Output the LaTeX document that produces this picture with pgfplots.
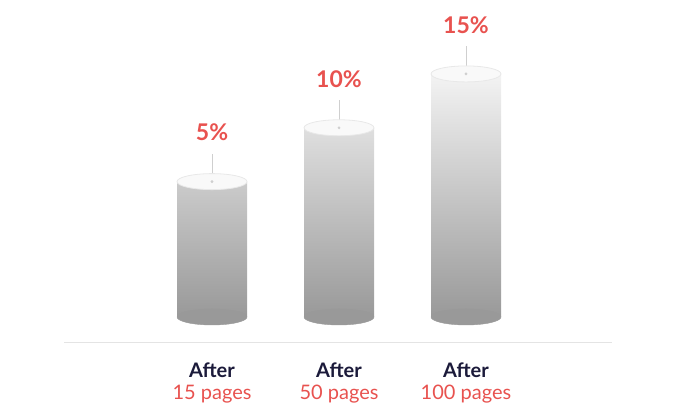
\documentclass[border=0pt]{standalone}
\usepackage{pgfplots}
\pgfplotsset{compat=1.18}
\usepackage{fontspec}
\setmainfont{Lato}

\definecolor{pctred}{HTML}{E8524F}
\definecolor{navy}{HTML}{1B1A3A}
\definecolor{cyldark}{HTML}{999999}
\definecolor{cyllight}{HTML}{F3F3F3}
\definecolor{captop}{HTML}{F9F9F9}
\definecolor{caprim}{HTML}{E8E8E8}
\definecolor{pin}{HTML}{CFCFCF}
\definecolor{baseline}{HTML}{E4E4E4}

% elliptic face of a cylinder, 70px wide
\pgfdeclareplotmark{cylface}{%
  \pgfpathellipse{\pgfpointorigin}{\pgfqpoint{35pt}{0pt}}{\pgfqpoint{0pt}{8pt}}%
  \pgfusepathqfillstroke}

\begin{document}
\begin{tikzpicture}
\useasboundingbox (0,0) rectangle (680pt,412pt);

\begin{axis}[
  scale only axis,
  width=548pt,
  height=343pt,
  at={(64pt,69pt)},
  anchor=south west,
  xmin=-0.1654, xmax=4.1496,
  ymin=-2.414, ymax=29.434,
  clip=false,
  axis x line=bottom,
  hide y axis,
  x axis line style={-, draw=baseline, line width=1pt},
  major tick length=0pt,
  xtick={1,2,3},
  xticklabels={
    {\textbf{\color{navy}After}\\\color{pctred}15 pages},
    {\textbf{\color{navy}After}\\\color{pctred}50 pages},
    {\textbf{\color{navy}After}\\\color{pctred}100 pages}},
  xticklabel style={align=center, font=\fontsize{20}{22.6}\selectfont, yshift=-16pt},
  /pgf/number format/assume math mode=true,
]

% bottom faces
\addplot[only marks, mark=cylface, mark options={fill=cyldark, draw=cyldark}]
coordinates {(1,0) (2,0) (3,0)};

% cylinder bodies
\addplot[ybar, bar width=70pt, bar shift=0pt, draw=none,
  top color=cyllight, bottom color=cyldark,
  y filter/.expression={y+7.57}]
coordinates {(1,5) (2,10) (3,15)};

% top faces
\addplot[only marks, mark=cylface, mark options={fill=captop, draw=caprim, line width=0.8pt},
  y filter/.expression={y+7.57}]
coordinates {(1,5) (2,10) (3,15)};

% pin lines and value labels
\addplot[only marks, color=pin, mark=*, mark size=1.2pt, mark options={fill=pin, draw=none},
  y filter/.expression={y+7.57},
  error bars/.cd, y dir=plus, y fixed=2.6, error mark=none,
  error bar style={draw=pin, line width=0.6pt}]
coordinates {(1,5) (2,10) (3,15)};

\addplot[draw=none, mark=none, point meta=explicit,
  y filter/.expression={y+7.57},
  nodes near coords={\pgfmathprintnumber[fixed,precision=0]{\pgfplotspointmeta}\%},
  every node near coord/.append style={anchor=center, yshift=49pt,
    font=\fontsize{23}{27}\selectfont\bfseries, text=pctred}]
coordinates {(1,5) [5] (2,10) [10] (3,15) [15]};

\end{axis}
\end{tikzpicture}
\end{document}
